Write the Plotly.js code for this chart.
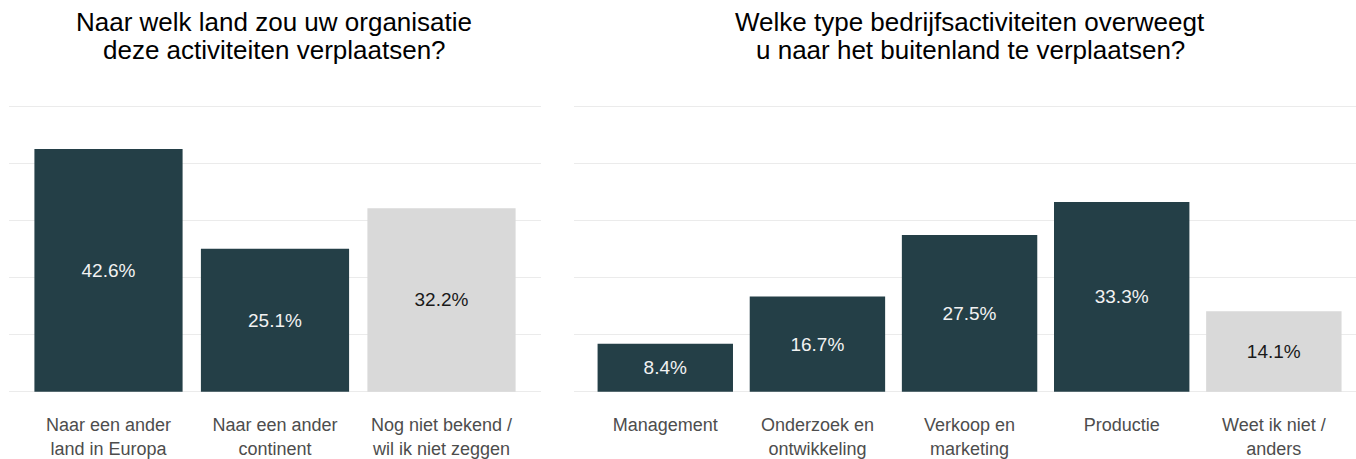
<!DOCTYPE html>
<html>
<head>
<meta charset="utf-8">
<script src="https://cdn.plot.ly/plotly-3.0.1.min.js"></script>
<style>html,body{margin:0;padding:0;background:#fff;}#chart{width:1356px;height:459px;}</style>
</head>
<body>
<div id="chart"></div>
<script>
// Left panel: destination
const leftCategories = ["Naar een ander<br>land in Europa", "Naar een ander<br>continent", "Nog niet bekend /<br>wil ik niet zeggen"];
const leftValues = [42.6, 25.1, 32.2];
const leftIsUnknown = [false, false, true];

// Right panel: type of activities
const rightCategories = ["Management", "Onderzoek en<br>ontwikkeling", "Verkoop en<br>marketing", "Productie", "Weet ik niet /<br>anders"];
const rightValues = [8.4, 16.7, 27.5, 33.3, 14.1];
const rightIsUnknown = [false, false, false, false, true];

const leftTitleLines = ["Naar welk land zou uw organisatie", "deze activiteiten verplaatsen?"];
const rightTitleLines = ["Welke type bedrijfsactiviteiten overweegt", "u naar het buitenland te verplaatsen?"];

const DARK = "#243f47";
const LIGHT = "#d9d9d9";
const FONT = "Liberation Sans, Arial, sans-serif";

function barTrace(cats, vals, unknown, xa, ya) {
  return {
    type: "bar",
    x: cats,
    y: vals,
    xaxis: xa,
    yaxis: ya,
    width: 0.89,
    marker: {color: unknown.map(u => u ? LIGHT : DARK), line: {width: 0}},
    texttemplate: "%{y:.1f}%",
    textposition: "inside",
    insidetextanchor: "middle",
    textangle: 0,
    constraintext: "none",
    textfont: {family: FONT, size: 19, color: unknown.map(u => u ? "#1a1a1a" : "#f2f2f2")},
    hoverinfo: "none",
    showlegend: false
  };
}

const data = [
  barTrace(leftCategories, leftValues, leftIsUnknown, "x", "y"),
  barTrace(rightCategories, rightValues, rightIsUnknown, "x2", "y2")
];

const yCommon = {
  range: [-0.3, 50.3],
  domain: [0.1429, 0.7712],
  dtick: 10,
  tick0: 0,
  showticklabels: false,
  ticks: "",
  showgrid: true,
  gridcolor: "#ebebeb",
  gridwidth: 1.5,
  zeroline: false,
  showline: false,
  fixedrange: true
};
const xCommon = {
  type: "category",
  ticks: "",
  showgrid: false,
  zeroline: false,
  showline: false,
  tickfont: {family: FONT, size: 18, color: "#4d4d4d"},
  ticklabelstandoff: 19,
  fixedrange: true
};

function titleAnns(lines, xPix) {
  const centers = [22, 50];
  return lines.map((t, i) => ({
    text: t, xref: "paper", yref: "paper", x: xPix/1356, y: 1 - centers[i]/459,
    xanchor: "center", yanchor: "middle", showarrow: false,
    font: {family: FONT, size: 26, color: "#000000"}
  }));
}

const layout = {
  width: 1356,
  height: 459,
  margin: {l: 0, r: 0, t: 0, b: 0},
  paper_bgcolor: "#ffffff",
  plot_bgcolor: "#ffffff",
  font: {family: FONT},
  xaxis: Object.assign({}, xCommon, {domain: [8.6/1356, 541.4/1356], range: [-0.6, 2.6], anchor: "y"}),
  yaxis: Object.assign({}, yCommon, {anchor: "x"}),
  xaxis2: Object.assign({}, xCommon, {domain: [574/1356, 1], range: [-0.6, 4.54], anchor: "y2"}),
  yaxis2: Object.assign({}, yCommon, {anchor: "x2"}),
  annotations: titleAnns(leftTitleLines, 274).concat(titleAnns(rightTitleLines, 970))
};

Plotly.newPlot("chart", data, layout, {displayModeBar: false, staticPlot: true});
</script>
</body>
</html>
